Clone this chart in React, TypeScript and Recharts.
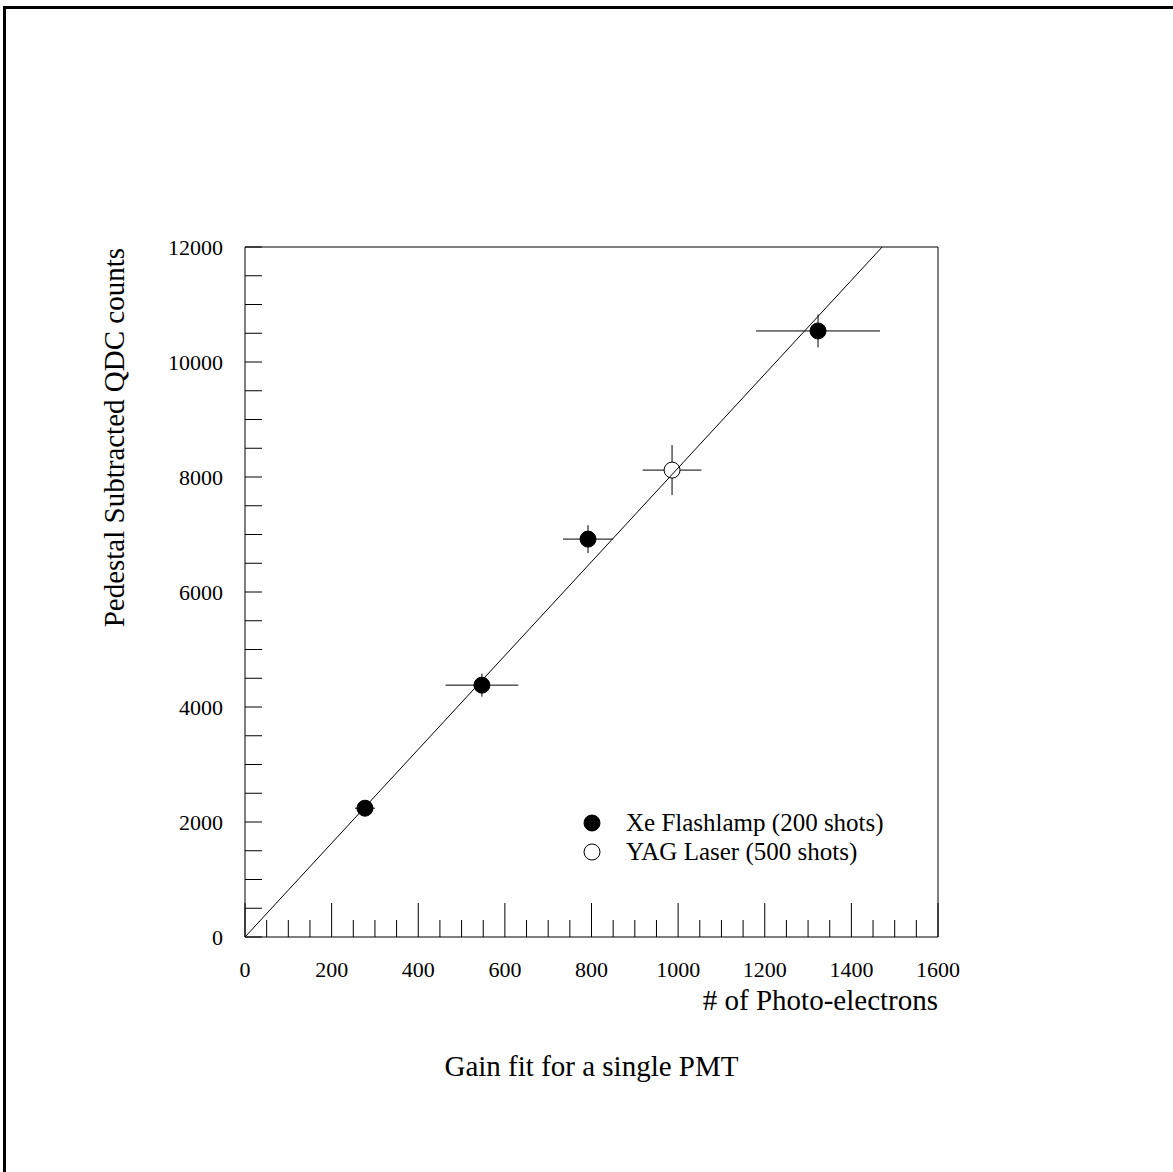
import React from 'react';
import { ScatterChart, Scatter, XAxis, YAxis, ErrorBar, ReferenceLine, Legend, Label } from 'recharts';

// ---- data ----
const xeX = [277, 547, 792, 1323];
const xeY = [2240, 4380, 6920, 10540];
const xeXErr = [23, 84, 58, 143];
const xeYErr = [100, 200, 243, 287];

const yagX = [986];
const yagY = [8120];
const yagXErr = [68];
const yagYErr = [435];

const fitX = [0, 1471];
const fitY = [0, 12000];

const xTicks = [0, 50, 100, 150, 200, 250, 300, 350, 400, 450, 500, 550, 600, 650, 700, 750, 800, 850, 900, 950, 1000, 1050, 1100, 1150, 1200, 1250, 1300, 1350, 1400, 1450, 1500, 1550, 1600];
const yTicks = [0, 500, 1000, 1500, 2000, 2500, 3000, 3500, 4000, 4500, 5000, 5500, 6000, 6500, 7000, 7500, 8000, 8500, 9000, 9500, 10000, 10500, 11000, 11500, 12000];

const seriesNames = ['Xe Flashlamp (200 shots)', 'YAG Laser (500 shots)'];
const seriesFilled = [true, false];

const xTitle = '# of Photo-electrons';
const yTitle = 'Pedestal Subtracted QDC counts';
const caption = 'Gain fit for a single PMT';

// ---- derived tables ----
const xeData = xeX.map((x, i) => ({ x, y: xeY[i], xErr: xeXErr[i], yErr: xeYErr[i] }));
const yagData = yagX.map((x, i) => ({ x, y: yagY[i], xErr: yagXErr[i], yErr: yagYErr[i] }));
const fitData = fitX.map((x, i) => ({ x, y: fitY[i] }));

const FONT = '"Liberation Serif", "Times New Roman", serif';

const XTick = (props: any) => {
  const { x, y, payload } = props;
  const v = payload.value;
  const major = v % 200 === 0;
  return (
    <g>
      <line x1={x} y1={y} x2={x} y2={y - (major ? 34 : 17)} stroke="#000" strokeWidth={1} />
      {major && (
        <text x={x} y={y + 40} textAnchor="middle" style={{ fontFamily: FONT, fontSize: 22 }} fill="#000">
          {v}
        </text>
      )}
    </g>
  );
};

const YTick = (props: any) => {
  const { x, y, payload } = props;
  const v = payload.value;
  const major = v % 2000 === 0;
  return (
    <g>
      <line x1={x} y1={y} x2={x + 17} y2={y} stroke="#000" strokeWidth={1} />
      {major && (
        <text x={x - 22} y={y + 7.5} textAnchor="end" style={{ fontFamily: FONT, fontSize: 22 }} fill="#000">
          {v}
        </text>
      )}
    </g>
  );
};

const dotShape = (filled: boolean) => (props: any) => (
  <circle cx={props.cx} cy={props.cy} r={8} fill={filled ? '#000' : '#fff'} stroke="#000" strokeWidth={1} />
);

const LegendContent = () => (
  <div style={{ fontFamily: FONT, fontSize: 25, color: '#000' }}>
    {seriesNames.map((name, i) => (
      <div key={name} style={{ display: 'flex', alignItems: 'center', height: 29 }}>
        <svg width={18} height={18} style={{ display: 'block' }}>
          <circle cx={9} cy={9} r={8} fill={seriesFilled[i] ? '#000' : '#fff'} stroke="#000" strokeWidth={1} />
        </svg>
        <span style={{ marginLeft: 25, lineHeight: '29px', whiteSpace: 'nowrap' }}>{name}</span>
      </div>
    ))}
  </div>
);

export default function App() {
  return (
    <div style={{ position: 'absolute', left: 0, top: 0, width: 1173, height: 1172, overflow: 'hidden', background: '#fff' }}>
      <div
        style={{
          position: 'absolute',
          left: 3,
          top: 6,
          width: 1400,
          height: 1400,
          borderLeft: '3px solid #000',
          borderTop: '3px solid #000',
        }}
      />
      <ScatterChart width={1173} height={1172} margin={{ top: 247, right: 235, bottom: 195, left: 145 }}>
        <XAxis
          type="number"
          dataKey="x"
          domain={[0, 1600]}
          ticks={xTicks}
          interval={0}
          height={40}
          tickSize={0}
          tickMargin={0}
          tickLine={false}
          tick={<XTick />}
          axisLine={{ stroke: '#000', strokeWidth: 1 }}
          allowDataOverflow
        >
          <Label
            content={(p: any) => {
              const vb = p.viewBox;
              return (
                <text x={vb.x + vb.width} y={vb.y + 73} textAnchor="end" fontFamily={FONT} fontSize={29} fill="#000">
                  {xTitle}
                </text>
              );
            }}
          />
          <Label
            content={(p: any) => {
              const vb = p.viewBox;
              return (
                <text x={vb.x + vb.width / 2} y={vb.y + 139} textAnchor="middle" fontFamily={FONT} fontSize={29} fill="#000">
                  {caption}
                </text>
              );
            }}
          />
        </XAxis>
        <YAxis
          type="number"
          dataKey="y"
          domain={[0, 12000]}
          ticks={yTicks}
          interval={0}
          width={100}
          tickSize={0}
          tickMargin={0}
          tickLine={false}
          tick={<YTick />}
          axisLine={{ stroke: '#000', strokeWidth: 1 }}
          allowDataOverflow
        >
          <Label
            content={(p: any) => {
              const vb = p.viewBox;
              const cx = vb.x - 21;
              const cy = vb.y + 1;
              return (
                <text
                  x={cx}
                  y={cy}
                  transform={`rotate(-90, ${cx}, ${cy})`}
                  textAnchor="end"
                  fontFamily={FONT}
                  fontSize={29}
                  fill="#000"
                >
                  {yTitle}
                </text>
              );
            }}
          />
        </YAxis>
        <ReferenceLine y={12000} stroke="#000" strokeWidth={1} />
        <ReferenceLine x={1600} stroke="#000" strokeWidth={1} />
        <Legend
          layout="vertical"
          align="center"
          verticalAlign="middle"
          wrapperStyle={{ left: 583, top: 808, width: 340, margin: 0 }}
          content={<LegendContent />}
        />
        <Scatter name={seriesNames[0]} data={xeData} shape={dotShape(true)} isAnimationActive={false}>
          <ErrorBar dataKey="xErr" direction="x" width={0} stroke="#000" strokeWidth={1} isAnimationActive={false} />
          <ErrorBar dataKey="yErr" direction="y" width={0} stroke="#000" strokeWidth={1} isAnimationActive={false} />
        </Scatter>
        <Scatter name={seriesNames[1]} data={yagData} shape={dotShape(false)} isAnimationActive={false}>
          <ErrorBar dataKey="xErr" direction="x" width={0} stroke="#000" strokeWidth={1} isAnimationActive={false} />
          <ErrorBar dataKey="yErr" direction="y" width={0} stroke="#000" strokeWidth={1} isAnimationActive={false} />
        </Scatter>
        <Scatter
          name="fit"
          data={fitData}
          line={{ stroke: '#000', strokeWidth: 1 }}
          shape={() => <g />}
          legendType="none"
          isAnimationActive={false}
        />
      </ScatterChart>
    </div>
  );
}
